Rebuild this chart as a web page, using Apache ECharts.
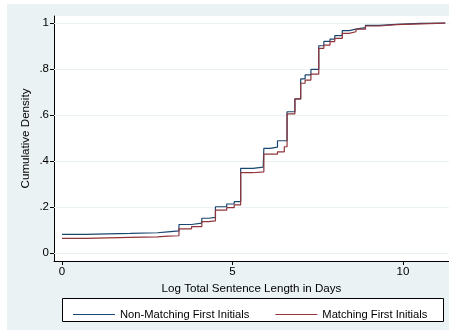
<!DOCTYPE html>
<html>
<head>
<meta charset="utf-8">
<script src="https://cdn.jsdelivr.net/npm/echarts@6/dist/echarts.min.js"></script>
<style>html,body{margin:0;padding:0;background:#fff}#c{width:449px;height:332px}</style>
</head>
<body>
<div id="c"></div>
<script>
// ---- data ----
var seriesNames = ['Non-Matching First Initials', 'Matching First Initials'];
var xTickValues = [0, 5, 10];
var yTickValues = [0, 0.2, 0.4, 0.6, 0.8, 1];
var yTickLabels = ['0', '.2', '.4', '.6', '.8', '1'];
var xLabel = 'Log Total Sentence Length in Days';
var yLabel = 'Cumulative Density';

var blueX = [0, 0.69, 2.0, 2.8, 3.1, 3.43, 3.8, 4.1, 4.3, 4.5, 4.83, 5.05, 5.24, 5.6, 5.9, 5.92, 6.1, 6.32, 6.6, 6.83, 7.0, 7.13, 7.3, 7.53, 7.68, 7.86, 8.0, 8.22, 8.42, 8.62, 8.9, 9.3, 9.8, 10.5, 11.24];
var blueY = [0.081, 0.085, 0.088, 0.092, 0.096, 0.124, 0.13, 0.151, 0.155, 0.201, 0.213, 0.223, 0.368, 0.373, 0.378, 0.455, 0.46, 0.488, 0.614, 0.67, 0.757, 0.774, 0.798, 0.901, 0.92, 0.93, 0.945, 0.967, 0.973, 0.98, 0.99, 0.994, 0.998, 1.0, 1.0];
var redX = [0, 0.69, 2.0, 2.8, 3.1, 3.43, 3.8, 4.1, 4.3, 4.5, 4.83, 5.05, 5.24, 5.6, 5.92, 6.32, 6.52, 6.6, 6.83, 7.0, 7.13, 7.3, 7.53, 7.68, 7.86, 8.0, 8.22, 8.42, 8.62, 8.9, 9.3, 9.8, 11.24];
var redY = [0.064, 0.068, 0.07, 0.073, 0.075, 0.105, 0.115, 0.136, 0.14, 0.186, 0.197, 0.209, 0.349, 0.353, 0.43, 0.44, 0.462, 0.605, 0.67, 0.738, 0.752, 0.778, 0.89, 0.904, 0.919, 0.933, 0.955, 0.962, 0.973, 0.987, 0.993, 0.999, 1.0];

function zip(xs, ys) { return xs.map(function (x, i) { return [x, ys[i]]; }); }

var FONT = 'Liberation Sans, Arial, sans-serif';
var chart = echarts.init(document.getElementById('c'), null, {renderer: 'canvas'});
var option = {
  animation: false,
  backgroundColor: '#ffffff',
  graphic: [
    {type: 'rect', z: -10, shape: {x: 7, y: 4, width: 442, height: 326}, style: {fill: '#eaf2f3'}},
    {type: 'rect', z: -5, shape: {x: 54, y: 16, width: 395, height: 245}, style: {fill: '#ffffff'}},
    {type: 'rect', z: 5, shape: {x: 62.5, y: 298.5, width: 381, height: 23}, style: {fill: '#ffffff', stroke: '#000', lineWidth: 1}}
  ],
  grid: {left: 54, right: 0, top: 16, bottom: 71, containLabel: false},
  legend: {
    data: seriesNames,
    left: 68, top: 304,
    icon: 'rect',
    itemWidth: 42, itemHeight: 1, itemGap: 26,
    z: 10,
    textStyle: {fontFamily: FONT, fontSize: 11.2, color: '#000'}
  },
  xAxis: {
    type: 'value', min: -0.235, max: 11.35,
    name: xLabel, nameLocation: 'middle', nameGap: 22, nameMoveOverlap: false,
    nameTextStyle: {fontFamily: FONT, fontSize: 11.6, color: '#000'},
    axisLine: {onZero: false, lineStyle: {color: '#000', width: 1}},
    axisTick: {customValues: xTickValues, length: 4, lineStyle: {color: '#000'}},
    axisLabel: {customValues: xTickValues, fontFamily: FONT, fontSize: 11.5, color: '#000', margin: 5},
    splitLine: {show: false}
  },
  yAxis: {
    type: 'value', min: -0.0348, max: 1.0304,
    name: yLabel, nameLocation: 'middle', nameGap: 22, nameRotate: 90, nameMoveOverlap: false,
    nameTextStyle: {fontFamily: FONT, fontSize: 11.6, color: '#000'},
    axisLine: {onZero: false, lineStyle: {color: '#000', width: 1}},
    axisTick: {customValues: yTickValues, length: 4, lineStyle: {color: '#000'}},
    axisLabel: {customValues: yTickValues, fontFamily: FONT, fontSize: 11.5, color: '#000', margin: 5,
      formatter: function (v) { var i = yTickValues.findIndex(function (t) { return Math.abs(t - v) < 1e-6; }); return i >= 0 ? yTickLabels[i] : ''; }},
    splitLine: {show: false}
  },
  series: [
    {
      name: seriesNames[0], type: 'line', step: 'end', showSymbol: false, symbol: 'none',
      data: zip(blueX, blueY), z: 3,
      lineStyle: {color: '#1a476f', width: 1.2}, itemStyle: {color: '#1a476f'},
      markLine: {silent: true, symbol: 'none', label: {show: false}, z: 1,
        lineStyle: {color: '#eaf2f3', width: 1, type: 'solid'},
        data: yTickValues.map(function (v) { return {yAxis: v}; })}
    },
    {
      name: seriesNames[1], type: 'line', step: 'end', showSymbol: false, symbol: 'none',
      data: zip(redX, redY), z: 4,
      lineStyle: {color: '#90353b', width: 1.2}, itemStyle: {color: '#90353b'}
    }
  ]
};
chart.setOption(option);
</script>
</body>
</html>
